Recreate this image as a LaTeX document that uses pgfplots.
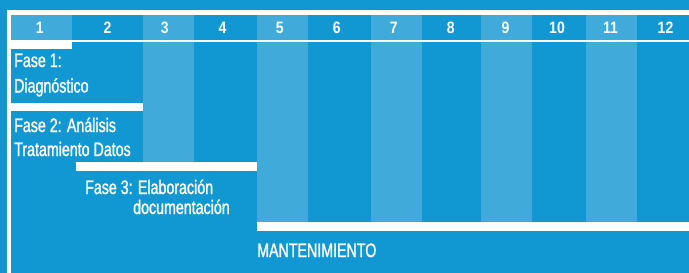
\documentclass[border=0pt]{standalone}
\usepackage{fontspec}
\usepackage{pgfplots}
\pgfplotsset{compat=1.18}
\newfontfamily\cond{Liberation Sans}[FakeStretch=0.73,FakeBold=1.2]
\newfontfamily\condb{Liberation Sans Bold}[FakeStretch=0.85]
\definecolor{dk}{RGB}{17,152,210}
\definecolor{lt}{RGB}{64,170,219}
\begin{document}
\begin{tikzpicture}
\begin{axis}[
  width=689bp, height=273bp, scale only axis,
  xmin=0, xmax=689, ymin=0, ymax=273, y dir=reverse,
  hide axis, clip=true,
]
% background
\addplot[fill=dk, draw=none] coordinates {(0,0) (689,0) (689,273) (0,273)};
% outer white frame
\addplot[fill=white, draw=none] coordinates {(7,10) (689,10) (689,15) (7,15)};
\addplot[fill=white, draw=none] coordinates {(7,10) (11,10) (11,273) (7,273)};
% light column stripes
\addplot[fill=lt, draw=none] coordinates {(11,15) (72,15) (72,40) (11,40)};
\addplot[fill=lt, draw=none] coordinates {(143,15) (194,15) (194,162) (143,162)};
\addplot[fill=lt, draw=none] coordinates {(257,15) (308,15) (308,222) (257,222)};
\addplot[fill=lt, draw=none] coordinates {(371,15) (422,15) (422,222) (371,222)};
\addplot[fill=lt, draw=none] coordinates {(481,15) (532,15) (532,222) (481,222)};
\addplot[fill=lt, draw=none] coordinates {(586,15) (637,15) (637,222) (586,222)};
% header separator
\addplot[fill=white, draw=none] coordinates {(11,40) (689,40) (689,42) (11,42)};
% phase bars
\addplot[fill=white, draw=none] coordinates {(11,42) (72,42) (72,49) (11,49)};
\addplot[fill=white, draw=none] coordinates {(11,103) (143,103) (143,111) (11,111)};
\addplot[fill=white, draw=none] coordinates {(76,162) (257,162) (257,171) (76,171)};
\addplot[fill=white, draw=none] coordinates {(257,222) (689,222) (689,231) (257,231)};
% header numbers
\foreach \c/\n in {39.7/1,107.5/2,164.8/3,222.5/4,279.7/5,336.7/6,393.8/7,450.8/8,505.5/9,557/10,610.5/11,665.5/12}{
  \edef\tmp{\noexpand\node[anchor=base, text=white, inner sep=0pt, font=\noexpand\condb\noexpand\fontsize{16.5bp}{18bp}\noexpand\selectfont] at (axis cs:\c,33) {\n};}
  \tmp
}
% phase labels
\tikzset{lbl/.style={anchor=base west, text=white, inner sep=0pt, font=\cond\fontsize{19.5bp}{20bp}\selectfont}}
\node[lbl] at (axis cs:14,67) {Fase 1:};
\node[lbl] at (axis cs:14,92.5) {Diagnóstico};
\node[lbl] at (axis cs:14,132) {Fase 2: Análisis};
\node[lbl] at (axis cs:14,156) {Tratamiento Datos};
\node[lbl] at (axis cs:85,194) {Fase 3: Elaboración};
\node[lbl] at (axis cs:133,214) {documentación};
\node[lbl] at (axis cs:257,257) {MANTENIMIENTO};
\end{axis}
\end{tikzpicture}
\end{document}
